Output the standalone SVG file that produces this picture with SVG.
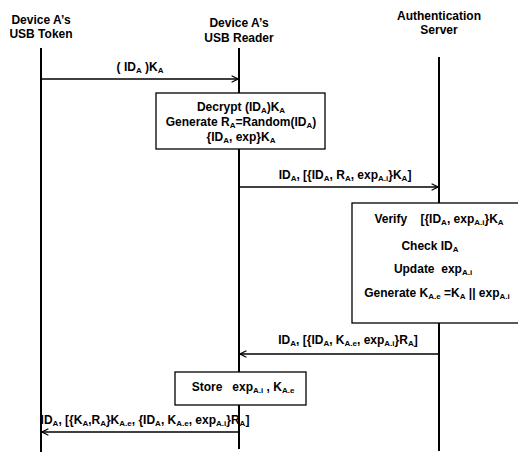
<svg xmlns="http://www.w3.org/2000/svg" width="518" height="452" viewBox="0 0 518 452">
<style>
text{font-family:"Liberation Sans",Arial,sans-serif;font-weight:bold;font-size:12px;fill:#000;white-space:pre;text-anchor:middle}
.s{font-size:8px;baseline-shift:-2px}
.ll{stroke:#000;stroke-width:2;fill:none}
.box{fill:#fff;stroke:#000;stroke-width:1.3}
.msg{stroke:#000;stroke-width:1.5;fill:none}
</style>
<defs>
<marker id="ah" viewBox="0 0 10 10" refX="9" refY="5" markerWidth="8" markerHeight="8" markerUnits="userSpaceOnUse" orient="auto">
<path d="M1,1 L9,5 L1,9" fill="none" stroke="#000" stroke-width="1.6"/>
</marker>
</defs>
<g id="token">
<text x="41" y="24">Device A’s</text>
<text x="41" y="38">USB Token</text>
<line class="ll" x1="41" y1="48" x2="41" y2="452"/>
</g>
<g id="reader">
<text x="239" y="27">Device A’s</text>
<text x="239" y="42">USB Reader</text>
<line class="ll" x1="239" y1="48" x2="239" y2="449"/>
</g>
<g id="server">
<text x="439" y="20">Authentication</text>
<text x="439" y="34">Server</text>
<line class="ll" x1="439" y1="57" x2="439" y2="451"/>
</g>
<g id="connectors">
<line class="msg" x1="41" y1="79" x2="238" y2="79" marker-end="url(#ah)"/>
<text x="140" y="71">( ID<tspan class="s">A</tspan> )K<tspan class="s">A</tspan></text>
<line class="msg" x1="239" y1="187" x2="438" y2="187" marker-end="url(#ah)"/>
<text x="345" y="179">ID<tspan class="s">A</tspan>, [{ID<tspan class="s">A</tspan>, R<tspan class="s">A</tspan>, exp<tspan class="s">A.i</tspan>}K<tspan class="s">A</tspan>]</text>
<line class="msg" x1="439" y1="354" x2="240" y2="354" marker-end="url(#ah)"/>
<text x="348" y="344">ID<tspan class="s">A</tspan>, [{ID<tspan class="s">A</tspan>, K<tspan class="s">A.e</tspan>, exp<tspan class="s">A.i</tspan>}R<tspan class="s">A</tspan>]</text>
<line class="msg" x1="239" y1="432" x2="42" y2="432" marker-end="url(#ah)"/>
<text x="145" y="424">ID<tspan class="s">A</tspan>, [{K<tspan class="s">A</tspan>,R<tspan class="s">A</tspan>}K<tspan class="s">A.e</tspan>, {ID<tspan class="s">A</tspan>, K<tspan class="s">A.e</tspan>, exp<tspan class="s">A.i</tspan>}R<tspan class="s">A</tspan>]</text>
</g>
<g id="decrypt">
<rect class="box" x="156" y="93" width="169" height="56"/>
<text x="241" y="111">Decrypt (ID<tspan class="s">A</tspan>)K<tspan class="s">A</tspan></text>
<text x="241" y="126">Generate R<tspan class="s">A</tspan>=Random(ID<tspan class="s">A</tspan>)</text>
<text x="241" y="141">{ID<tspan class="s">A</tspan>, exp}K<tspan class="s">A</tspan></text>
</g>
<g id="verify">
<rect class="box" x="352" y="203" width="170" height="120"/>
<text x="439" y="223">Verify    [{ID<tspan class="s">A</tspan>, exp<tspan class="s">A.i</tspan>}K<tspan class="s">A</tspan></text>
<text x="430" y="250">Check ID<tspan class="s">A</tspan></text>
<text x="433" y="273">Update  exp<tspan class="s">A.i</tspan></text>
<text x="437" y="297">Generate K<tspan class="s">A.e</tspan> =K<tspan class="s">A</tspan> || exp<tspan class="s">A.i</tspan></text>
</g>
<g id="store">
<rect class="box" x="175" y="372" width="131" height="33"/>
<text x="243" y="391">Store   exp<tspan class="s">A.i</tspan> , K<tspan class="s">A.e</tspan></text>
</g>
</svg>
